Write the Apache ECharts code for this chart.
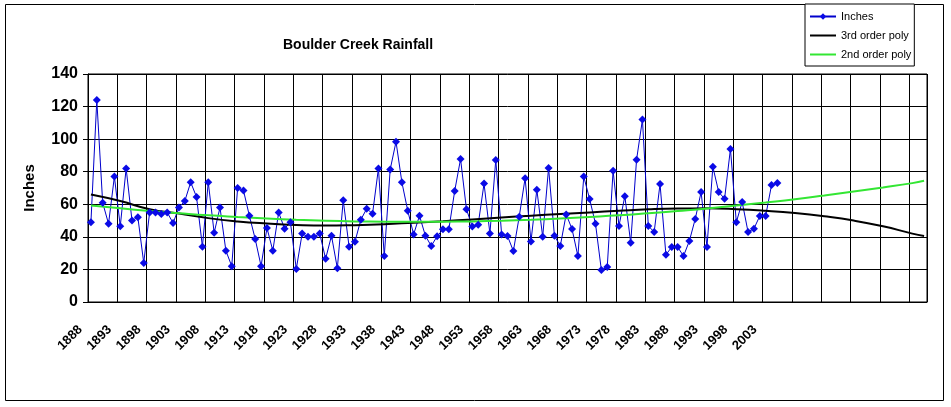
<!DOCTYPE html>
<html>
<head>
<meta charset="utf-8">
<script src="https://cdn.jsdelivr.net/npm/echarts@6/dist/echarts.min.js"></script>
<style>
  html, body { margin: 0; padding: 0; background: #fff; }
  #chart { width: 951px; height: 407px; }
</style>
</head>
<body>
<div id="chart"></div>
<script>
// yearly rainfall, 1888 - 2005
const firstYear = 1888;
const lastDataYear = 2005;
const lastYear = 2030;
const inches = [
  49, 124, 61, 48, 77, 46.5, 82, 50, 52, 24,
  55, 55, 54, 55, 48.5, 58, 62, 73.5, 64.5, 34,
  73.5, 42.5, 58, 31.5, 22, 70, 68.5, 53, 38.7, 22,
  45.5, 31.5, 55, 45, 49, 20.3, 42, 40, 40, 42,
  26.5, 40.7, 20.7, 62.5, 34, 37, 50.5, 57.3, 54.2, 82,
  28.2, 81.3, 98.4, 73.5, 56, 41.5, 53, 40.7, 34.4, 40.3,
  44.6, 44.6, 68.2, 87.8, 57, 46.3, 47.5, 72.7, 42, 87.2,
  41.5, 40.5, 31.3, 52.4, 76, 37.2, 69, 40, 82.3, 40.7,
  34.4, 53.8, 44.8, 28.2, 77, 63.2, 48, 19.6, 21.5, 80.6,
  46.7, 65, 36.4, 87.4, 112, 46.7, 43, 72.5, 29, 33.8,
  33.8, 28.2, 37.5, 51, 67.5, 33.8, 83, 67.5, 63.4, 94,
  49, 61.4, 43, 45, 52.8, 52.8, 71.8, 73
];

// trendline readings every 5 years
const trendYears = [
  1888, 1893, 1898, 1903, 1908, 1913, 1918, 1923, 1928, 1933,
  1938, 1943, 1948, 1953, 1958, 1963, 1968, 1973, 1978, 1983,
  1988, 1993, 1998, 2003, 2008, 2013, 2018, 2023, 2028, 2030
];
const poly3 = [
  66, 62, 57, 54.3, 51.5, 49.5, 48.2, 47.3, 46.9, 47.2,
  47.8, 48.7, 49.6, 50.7, 51.9, 53, 54, 55, 56, 56.9,
  57.4, 57.5, 57, 56, 54.6, 52.6, 50, 46.5, 42, 40.5
];
const poly2 = [
  59.2, 57.5, 55.9, 54.5, 53.2, 52.2, 51.3, 50.5, 49.9, 49.5,
  49.3, 49.2, 49.3, 49.5, 49.9, 50.5, 51.3, 52.2, 53.2, 54.5,
  55.9, 57.4, 59.2, 61.1, 63.1, 65.4, 67.8, 70.3, 73, 74.5
];

const categories = [];
for (let y = firstYear; y <= lastYear; y++) categories.push(String(y));

const font = "'Liberation Sans', Arial, sans-serif";
const noMarker = { color: 'rgba(0,0,0,0)', borderWidth: 0 };

const chart = echarts.init(document.getElementById('chart'));
chart.setOption({
  animation: false,
  backgroundColor: '#fff',
  title: {
    text: 'Boulder Creek Rainfall',
    left: 283,
    top: 38,
    padding: 0,
    textStyle: { fontFamily: font, fontSize: 14, fontWeight: 'bold', color: '#000' }
  },
  legend: {
    orient: 'vertical',
    left: 805,
    top: 4,
    padding: [7, 3, 6, 4],
    itemWidth: 26,
    itemHeight: 8,
    itemGap: 8,
    borderColor: '#000',
    borderWidth: 1,
    backgroundColor: '#fff',
    textStyle: { fontFamily: font, fontSize: 11, color: '#000' },
    data: [
      { name: 'Inches' },
      { name: '3rd order poly', itemStyle: noMarker },
      { name: '2nd order poly', itemStyle: noMarker }
    ]
  },
  graphic: [{
    type: 'rect',
    shape: { x: 5.5, y: 4.5, width: 938, height: 396 },
    style: { fill: 'none', stroke: '#000', lineWidth: 1 },
    z: -1
  }],
  grid: { left: 88, right: 24, top: 74, bottom: 105, show: true, borderColor: '#000', borderWidth: 1 },
  xAxis: {
    type: 'category',
    data: categories,
    boundaryGap: true,
    axisLine: { lineStyle: { color: '#000' } },
    axisTick: { interval: 4, length: 5, lineStyle: { color: '#000' } },
    splitLine: { show: true, interval: 4, lineStyle: { color: '#000' } },
    axisLabel: {
      interval: 4,
      rotate: 45,
      margin: 15,
      padding: [0, 15, 0, 0],
      fontFamily: font,
      fontSize: 13,
      fontWeight: 'bold',
      color: '#000',
      formatter: v => (Number(v) <= lastDataYear ? v : '')
    }
  },
  yAxis: {
    type: 'value',
    min: 0,
    max: 140,
    interval: 20,
    name: 'Inches',
    nameLocation: 'middle',
    nameRotate: 90,
    nameGap: 51,
    nameTextStyle: { fontFamily: font, fontSize: 15, fontWeight: 'bold', color: '#000' },
    axisLine: { show: true, lineStyle: { color: '#000' } },
    axisTick: { show: true, length: 5, lineStyle: { color: '#000' } },
    splitLine: { lineStyle: { color: '#000' } },
    axisLabel: { margin: 10, fontFamily: font, fontSize: 16, fontWeight: 'bold', color: '#000' }
  },
  series: [
    {
      name: 'Inches',
      type: 'line',
      data: inches,
      color: '#0000e0',
      symbol: 'diamond',
      symbolSize: 8,
      showAllSymbol: true,
      lineStyle: { width: 1, color: '#0000cc' },
      itemStyle: { color: '#0a0ae6' }
    },
    {
      name: '3rd order poly',
      type: 'line',
      data: trendYears.map((y, i) => [String(y), poly3[i]]),
      color: '#000',
      symbol: 'none',
      smooth: true,
      lineStyle: { width: 2, color: '#000' }
    },
    {
      name: '2nd order poly',
      type: 'line',
      data: trendYears.map((y, i) => [String(y), poly2[i]]),
      color: '#33e633',
      symbol: 'none',
      smooth: true,
      lineStyle: { width: 2, color: '#33e633' }
    }
  ]
});
</script>
</body>
</html>
